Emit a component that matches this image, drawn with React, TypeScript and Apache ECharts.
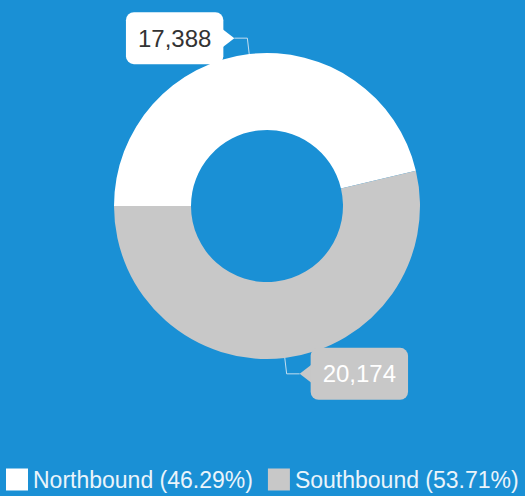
import React, { useEffect, useRef } from "react";
import * as echarts from "echarts";

const categories = ["Northbound", "Southbound"];
const values = [17388, 20174];

const BG = "#1a90d5";
const SLICE_COLORS = ["#ffffff", "#c8c8c8"];
const LABEL_TEXT_COLORS = ["#333333", "#ffffff"];
const FONT = "'Liberation Sans', Arial, Helvetica, sans-serif";
const GAP = 11;

export default function App() {
  const ref = useRef<HTMLDivElement>(null);
  useEffect(() => {
    if (!ref.current) return;
    const chart = echarts.init(ref.current, undefined, { renderer: "svg" });
    const total = values.reduce((a, b) => a + b, 0);
    const pct: Record<string, string> = {};
    categories.forEach((c, i) => {
      pct[c] = ((values[i] / total) * 100).toFixed(2);
    });
    const data = categories.map((name, i) => ({
      name,
      value: values[i],
      itemStyle: { color: SLICE_COLORS[i] },
      label: {
        color: LABEL_TEXT_COLORS[i],
        backgroundColor: SLICE_COLORS[i],
      },
    }));
    chart.setOption({
      animation: false,
      backgroundColor: BG,
      textStyle: { fontFamily: FONT },
      legend: {
        data: categories,
        left: 6,
        top: 468,
        width: 519,
        padding: 0,
        itemWidth: 22,
        itemHeight: 22,
        itemGap: 15,
        icon: "rect",
        formatter: (name: string) => `${name} (${pct[name]}%)`,
        textStyle: { color: "#eaf4fb", fontSize: 23, fontFamily: FONT },
      },
      series: [
        {
          type: "pie",
          center: [267, 206],
          radius: [76, 153],
          startAngle: 180,
          clockwise: true,
          avoidLabelOverlap: false,
          emphasis: { disabled: true },
          label: {
            show: true,
            position: "outside",
            formatter: (p: any) => Number(p.value).toLocaleString("en-US"),
            fontSize: 24,
            fontFamily: FONT,
            padding: [14, 12],
            borderRadius: 8,
            distanceToLabelLine: GAP,
          },
          labelLine: {
            show: true,
            length: 16,
            length2: 13,
            lineStyle: { color: "rgba(225,235,245,0.85)", width: 1 },
          },
          data,
        },
      ],
    });

    try {
      const model = (chart as any).getModel();
      const series = model.getSeriesByIndex(0);
      const sd = series.getData();
      const graphics: any[] = [];
      for (let i = 0; i < categories.length; i++) {
        const el = sd.getItemGraphicEl(i);
        const guide = el && el.getTextGuideLine && el.getTextGuideLine();
        const pts = guide && guide.shape && guide.shape.points;
        if (pts && pts.length >= 2) {
          const end = pts[pts.length - 1];
          const prev = pts[pts.length - 2];
          const dir = Math.sign(end[0] - prev[0]) || 1;
          const bx = end[0] + dir * (GAP + 2);
          graphics.push({
            type: "polygon",
            silent: true,
            z: 1,
            shape: {
              points: [
                [end[0], end[1]],
                [bx, end[1] - 10],
                [bx, end[1] + 10],
              ],
            },
            style: { fill: SLICE_COLORS[i] },
          });
        }
      }
      if (graphics.length) chart.setOption({ graphic: graphics });
    } catch (e) {
      // ignore
    }

    return () => chart.dispose();
  }, []);
  return (
    <div
      ref={ref}
      style={{ position: "fixed", left: 0, top: 0, width: 525, height: 496 }}
    />
  );
}
